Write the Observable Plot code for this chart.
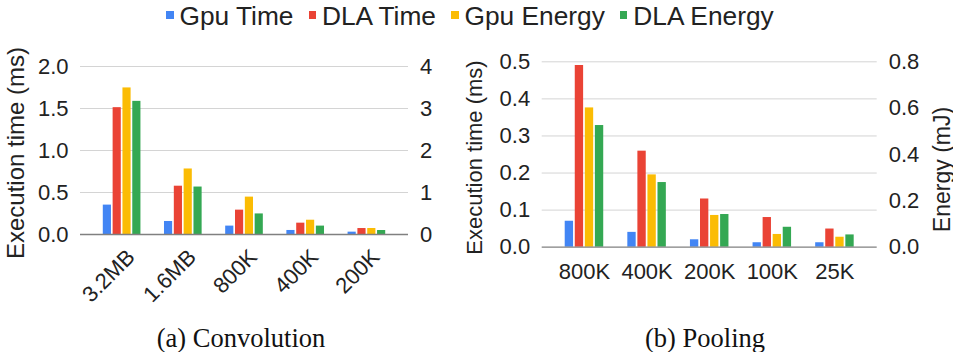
<!DOCTYPE html>
<html>
<head>
<meta charset="utf-8">
<script src="https://cdn.jsdelivr.net/npm/d3@7"></script>
<script src="https://cdn.jsdelivr.net/npm/@observablehq/plot@0.6"></script>
<style>
  html, body { margin: 0; padding: 0; background: #fff; }
  body { width: 953px; height: 352px; position: relative; overflow: hidden; font-family: "Liberation Sans", Arial, sans-serif; color: #222; }
  #legend { position: absolute; left: 166px; top: 1.5px; display: flex; align-items: center; font-size: 26.3px; line-height: 29px; white-space: nowrap; }
  #legend .item { display: flex; align-items: center; margin-right: 15px; }
  #legend .sw { width: 7.5px; height: 7.5px; margin-right: 6px; margin-top: -2px; }
  #left { position: absolute; left: 0; top: 40px; }
  #right { position: absolute; left: 450px; top: 40px; }
  .cap { position: absolute; width: 400px; text-align: center; font-family: "Liberation Serif", serif; font-size: 26.5px; line-height: 1; color: #111; }
  svg { overflow: visible; }
</style>
</head>
<body>
<div id="legend"></div>
<div id="left"></div>
<div id="right"></div>
<div class="cap" id="capA" style="left:41px; top:324.8px;"></div>
<div class="cap" id="capB" style="left:505px; top:324.8px;"></div>
<script>
// ---- data ----
const seriesNames = ["Gpu Time", "DLA Time", "Gpu Energy", "DLA Energy"];
const seriesColors = ["#4285F4", "#EA4335", "#FBBC04", "#34A853"];

// (a) Convolution: time in ms (left axis), energy on right axis
const convCategories = ["3.2MB", "1.6MB", "800K", "400K", "200K"];
const convGpuTime   = [0.35, 0.155, 0.10, 0.048, 0.028];
const convDlaTime   = [1.51, 0.575, 0.29, 0.135, 0.071];
const convGpuEnergy = [3.49, 1.56, 0.89, 0.34, 0.143];
const convDlaEnergy = [3.17, 1.13, 0.49, 0.20, 0.095];
const convTimeTicks   = [0, 0.5, 1.0, 1.5, 2.0];
const convEnergyTicks = [0, 1, 2, 3, 4];

// (b) Pooling: time in ms (left axis), energy in mJ (right axis)
const poolCategories = ["800K", "400K", "200K", "100K", "25K"];
const poolGpuTime   = [0.07, 0.04, 0.02, 0.012, 0.012];
const poolDlaTime   = [0.49, 0.259, 0.13, 0.08, 0.049];
const poolGpuEnergy = [0.601, 0.312, 0.137, 0.055, 0.043];
const poolDlaEnergy = [0.525, 0.279, 0.141, 0.086, 0.053];
const poolTimeTicks   = [0, 0.1, 0.2, 0.3, 0.4, 0.5];
const poolEnergyTicks = [0, 0.2, 0.4, 0.6, 0.8];

const captionA = "(a) Convolution";
const captionB = "(b) Pooling";

// ---- legend ----
const legend = document.getElementById("legend");
seriesNames.forEach((name, i) => {
  const item = document.createElement("div");
  item.className = "item";
  const sw = document.createElement("div");
  sw.className = "sw";
  sw.style.background = seriesColors[i];
  const label = document.createElement("span");
  label.textContent = name;
  item.appendChild(sw);
  item.appendChild(label);
  legend.appendChild(item);
});
document.getElementById("capA").textContent = captionA;
document.getElementById("capB").textContent = captionB;

// group layout in category units (1 = one category step)
const GROUP_WIDTH = 0.615, BAR_PAD = 0.17;

function buildRows(cats, gt, dt, ge, de, ratio) {
  const slot = GROUP_WIDTH / (seriesNames.length - BAR_PAD);
  const bw = slot * (1 - BAR_PAD);
  const rows = [];
  cats.forEach((c, i) => {
    [gt[i], dt[i], ge[i] * ratio, de[i] * ratio].forEach((v, j) => {
      const x1 = i - GROUP_WIDTH / 2 + j * slot;
      rows.push({cat: c, series: seriesNames[j], value: v, x1, x2: x1 + bw});
    });
  });
  return rows;
}

function panel(o) {
  const tMax = d3.max(o.timeTicks), eMax = d3.max(o.energyTicks);
  const ratio = tMax / eMax;
  const rows = buildRows(o.categories, o.gt, o.dt, o.ge, o.de, ratio);
  const n = o.categories.length;
  const marks = [
    Plot.gridY(o.timeTicks.filter(d => d > 0), {stroke: "#d4d4d4", strokeOpacity: 1, strokeWidth: 1}),
    Plot.rectY(rows, {x1: "x1", x2: "x2", y: "value", fill: "series"}),
    Plot.ruleY([0], {stroke: "#808080", strokeWidth: 1.3}),
    Plot.axisY(o.timeTicks, {anchor: "left", tickSize: 0, tickPadding: 12, tickFormat: o.timeFormat, label: null, fontSize: 22}),
    Plot.axisY(o.energyTicks.map(d => d * ratio), {anchor: "right", tickSize: 0, tickPadding: 11.5, tickFormat: d => o.energyFormat(d / ratio), label: null, fontSize: 22}),
    Plot.text([o.leftTitle], {text: d => d, frameAnchor: "left", textAnchor: "middle", lineAnchor: "middle", rotate: -90, dx: o.leftTitleDx, dy: o.leftTitleDy, fontSize: o.leftTitleSize}),
    Plot.text(o.categories, {x: (d, i) => i, text: d => d, frameAnchor: "bottom", rotate: o.rotate, textAnchor: o.rotate ? "end" : "middle", lineAnchor: "middle", dx: o.catDx, dy: o.catDy, fontSize: 22})
  ];
  if (o.rightTitle) {
    marks.push(Plot.text([o.rightTitle], {text: d => d, frameAnchor: "right", textAnchor: "middle", lineAnchor: "middle", rotate: -90, dx: o.rightTitleDx, dy: o.rightTitleDy, fontSize: o.rightTitleSize}));
  }
  return Plot.plot({
    width: o.width, height: o.height,
    marginLeft: o.ml, marginRight: o.mr, marginTop: o.mt, marginBottom: o.mb,
    style: {fontFamily: "Liberation Sans, Arial, sans-serif", fontSize: "22px", color: "#222", background: "transparent", overflow: "visible"},
    x: {domain: [-o.xPad, n - 1 + o.xPad], axis: null},
    y: {domain: [0, tMax], axis: null},
    color: {domain: seriesNames, range: seriesColors},
    marks
  });
}

document.getElementById("left").appendChild(panel({
  categories: convCategories, gt: convGpuTime, dt: convDlaTime, ge: convGpuEnergy, de: convDlaEnergy,
  timeTicks: convTimeTicks, energyTicks: convEnergyTicks,
  timeFormat: d3.format(".1f"), energyFormat: d3.format("d"),
  leftTitle: "Execution time (ms)", leftTitleDx: -64, leftTitleDy: 2.5, leftTitleSize: 24,
  rotate: -45, catDx: 9, catDy: 19,
  width: 450, height: 240, ml: 80, mr: 42, mt: 26, mb: 46,
  xPad: 0.68
}));

document.getElementById("right").appendChild(panel({
  categories: poolCategories, gt: poolGpuTime, dt: poolDlaTime, ge: poolGpuEnergy, de: poolDlaEnergy,
  timeTicks: poolTimeTicks, energyTicks: poolEnergyTicks,
  timeFormat: d3.format(".1f"), energyFormat: d3.format(".1f"),
  leftTitle: "Execution time (ms)", leftTitleDx: -67.7, leftTitleDy: 3, leftTitleSize: 22,
  rightTitle: "Energy (mJ)", rightTitleDx: 65, rightTitleDy: 15, rightTitleSize: 23,
  rotate: 0, catDx: 0, catDy: 25,
  width: 503, height: 260, ml: 91.7, mr: 76.3, mt: 21.3, mb: 53.3,
  xPad: 0.675
}));
</script>
</body>
</html>
